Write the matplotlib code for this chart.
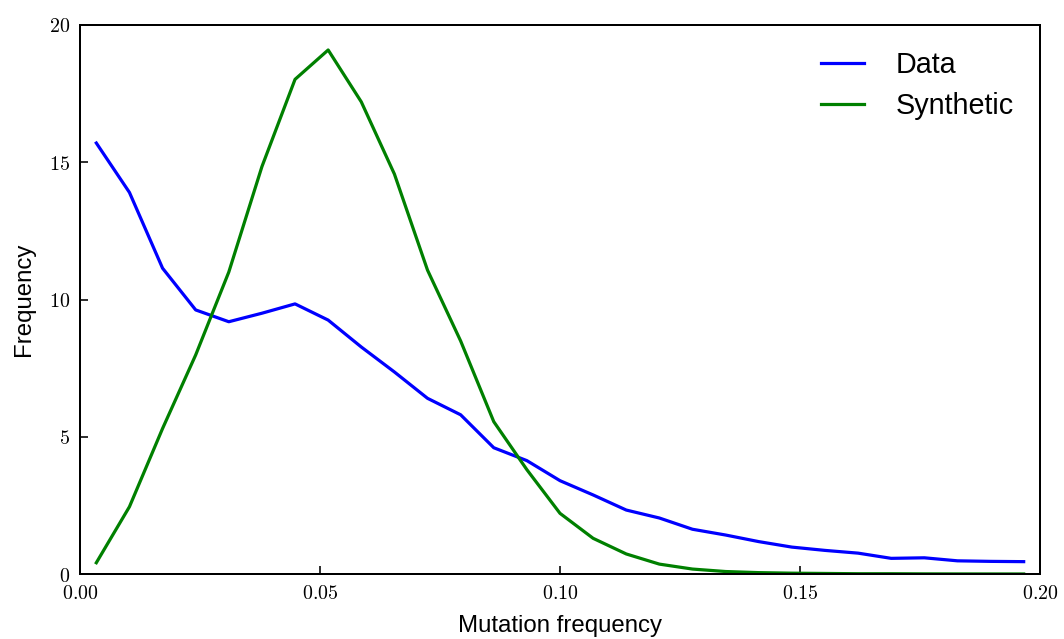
import matplotlib
matplotlib.use("Agg")
import matplotlib.pyplot as plt
from matplotlib.ticker import FuncFormatter

# bin centres (mutation frequency)
mut_freq = [0.0034, 0.0103, 0.0172, 0.0241, 0.0310, 0.0379, 0.0448, 0.0517,
            0.0586, 0.0655, 0.0724, 0.0793, 0.0862, 0.0931, 0.1000, 0.1069,
            0.1138, 0.1207, 0.1276, 0.1345, 0.1414, 0.1483, 0.1552, 0.1621,
            0.1690, 0.1759, 0.1828, 0.1897, 0.1966]

data_freq = [15.70, 13.90, 11.14, 9.62, 9.19, 9.50, 9.84, 9.25,
             8.27, 7.36, 6.40, 5.80, 4.60, 4.13, 3.40, 2.88,
             2.33, 2.04, 1.63, 1.42, 1.18, 0.98, 0.86, 0.76,
             0.57, 0.59, 0.48, 0.46, 0.45]

synth_freq = [0.41, 2.45, 5.30, 7.98, 11.0, 14.84, 18.02, 19.09,
              17.20, 14.57, 11.07, 8.49, 5.55, 3.80, 2.21, 1.30,
              0.73, 0.36, 0.18, 0.09, 0.05, 0.03, 0.02, 0.01,
              0.01, 0.005, 0.003, 0.002, 0.001]

plt.rcParams["mathtext.fontset"] = "cm"
plt.rcParams["font.family"] = ["Liberation Sans", "DejaVu Sans"]

fig = plt.figure(figsize=(1064 / 144, 639 / 144), dpi=144)
ax = fig.add_axes([80 / 1064, 1 - 574 / 639, 960 / 1064, 549 / 639])

ax.plot(mut_freq, data_freq, color="#0000ff", lw=1.6, label="Data")
ax.plot(mut_freq, synth_freq, color="#008000", lw=1.6, label="Synthetic")

ax.set_xlim(0, 0.2)
ax.set_ylim(0, 20)
ax.set_xticks([0.0, 0.05, 0.10, 0.15, 0.20])
ax.set_yticks([0, 5, 10, 15, 20])
ax.xaxis.set_major_formatter(FuncFormatter(lambda v, p: r"$%.2f$" % v))
ax.yaxis.set_major_formatter(FuncFormatter(lambda v, p: r"$%d$" % v))
ax.tick_params(direction="in", length=4, width=0.8, labelsize=10, pad=5,
               top=False, right=False)
for s in ax.spines.values():
    s.set_linewidth(1.0)

ax.set_xlabel("Mutation frequency", fontsize=12, labelpad=6)
ax.set_ylabel("Frequency", fontsize=12, labelpad=7)

ax.legend(loc="upper right", frameon=False, fontsize=14.4, handlelength=1.5,
          handletextpad=1.1, labelspacing=0.45, borderaxespad=0.5)

fig.savefig("out.png", dpi=144)
